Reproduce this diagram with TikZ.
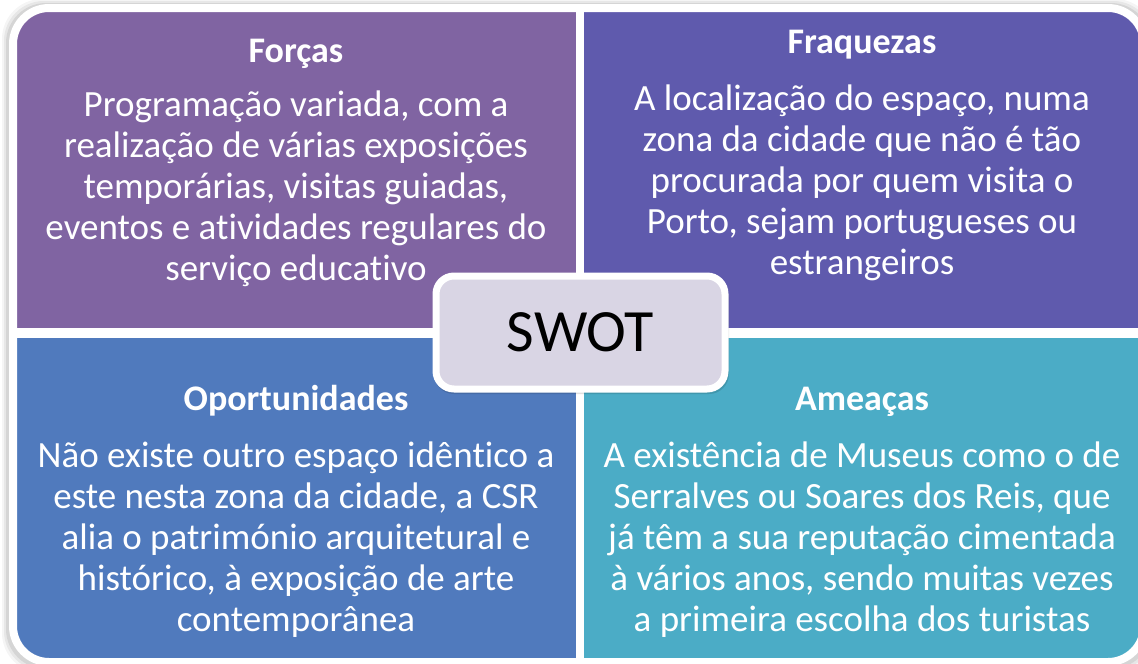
\documentclass[tikz,border=0pt]{standalone}
\usepackage{fontspec}
\setmainfont{Carlito}[Ligatures=NoCommon]
\usetikzlibrary{positioning}

\definecolor{forcas}{HTML}{8064A2}
\definecolor{fraquezas}{HTML}{5F5AAD}
\definecolor{oportunidades}{HTML}{507ABD}
\definecolor{ameacas}{HTML}{4BACC6}
\definecolor{swotfill}{HTML}{D9D5E4}

\begin{document}
\begin{tikzpicture}[x=1pt, y=-1pt,
                  rim/.style = {draw=white, line width=8pt},
                  head/.style = {font=\fontsize{36}{41}\selectfont\bfseries,
                                 text=white, anchor=base, inner sep=0pt},
                  body/.style = {font=\fontsize{37}{41}\selectfont,
                                 text=white, align=center, anchor=base, inner sep=0pt},
                  centre/.style = {draw=white, line width=7pt, fill=swotfill,
                                   rounded corners=18pt, minimum width=289pt,
                                   minimum height=113pt,
                                   font=\fontsize{60}{72}\selectfont}
                  ]
\useasboundingbox (0,0) rectangle (1138,664);
% soft shadow round the four quadrants
\foreach \s/\o in {7/0.04, 5/0.06, 3/0.08}
  \fill[black, opacity=\o, rounded corners=40pt]
    (9-\s,6-\s) rectangle (1148+\s,666+\s);
% quadrants
\begin{scope}
  \clip[rounded corners=36pt] (13,8) rectangle (1144,662);
  \fill[forcas] (0,0) rectangle (580,333);
  \fill[fraquezas] (580,0) rectangle (1150,333);
  \fill[oportunidades] (0,333) rectangle (580,670);
  \fill[ameacas] (580,333) rectangle (1150,670);
\end{scope}
\draw[rim] (579.5,8) -- (579.5,662);
\draw[rim, line width=10pt] (13,333) -- (1144,333);
\draw[rim, rounded corners=36pt] (13,8) rectangle (1144,662);
% texts (a body node sits on the baseline of its last line)
\node (forcasT) [head] at (296,62) {Forças};
\node (forcasB) [body] at (296,280) {Programação variada, com a\\
  realização de várias exposições\\temporárias, visitas guiadas,\\
  eventos e atividades regulares do\\serviço educativo};
\node (fraqT) [head] at (862,53) {Fraquezas};
\node (fraqB) [body] at (862,274) {A localização do espaço, numa\\
  zona da cidade que não é tão\\procurada por quem visita o\\
  Porto, sejam portugueses ou\\estrangeiros};
\node (oporT) [head] at (296,410) {Oportunidades};
\node (oporB) [body] at (296,631) {Não existe outro espaço idêntico a\\
  este nesta zona da cidade, a CSR\\alia o património arquitetural e\\
  histórico, à exposição de arte\\contemporânea};
\node (ameaT) [head] at (862,410) {Ameaças};
\node (ameaB) [body] at (862,631) {A existência de Museus como o de\\
  Serralves ou Soares dos Reis, que\\já têm a sua reputação cimentada\\
  à vários anos, sendo muitas vezes\\a primeira escolha dos turistas};
% centre box
\fill[black, opacity=0.12, rounded corners=20pt] (434,277) rectangle (729,394);
\node (swot) [centre] at (580.5,332.5) {SWOT};
\end{tikzpicture}
\end{document}
